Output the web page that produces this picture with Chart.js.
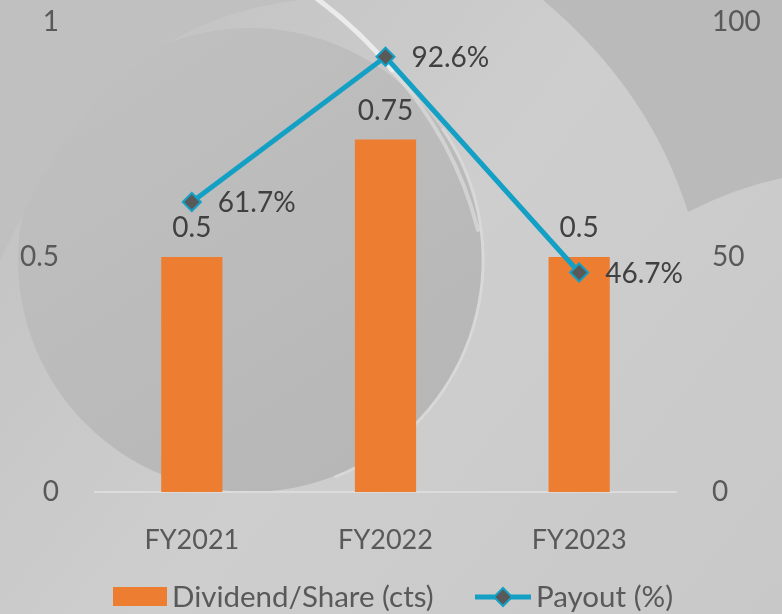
<!DOCTYPE html>
<html>
<head>
<meta charset="utf-8">
<script src="https://cdn.jsdelivr.net/npm/chart.js@4.4.1/dist/chart.umd.min.js"></script>
<style>
	html, body { margin: 0; padding: 0; background: #c8c8c8; }
	body { width: 782px; height: 614px; overflow: hidden; }
</style>
</head>
<body>
<canvas id="chart" width="782" height="614"></canvas>
<script>
var categories = ['FY2021', 'FY2022', 'FY2023'];
var dividendValues = [0.5, 0.75, 0.5];
var payoutValues = [61.7, 92.6, 46.7];
var leftTicks = [0, 0.5, 1];
var rightTicks = [0, 50, 100];

var textColor = '#595959';
var labelColor = '#404040';
var orange = '#ed7d31';
var teal = '#14a0c4';
var font = 'Lato, "Open Sans", sans-serif';

// grey swirl backdrop behind the chart
var backdropPlugin = {
	id: 'backdrop',
	beforeDraw: function(chart) {
		var ctx = chart.ctx;
		ctx.save();
		var g = ctx.createLinearGradient(0, 0, 782, 614);
		g.addColorStop(0, '#c0c0c0');
		g.addColorStop(0.5, '#cecece');
		g.addColorStop(1, '#c8c8c8');
		ctx.fillStyle = g;
		ctx.fillRect(0, 0, 782, 614);

		// darker top-right shape
		ctx.beginPath();
		ctx.moveTo(543, 0);
		ctx.quadraticCurveTo(650, 90, 688, 212);
		ctx.quadraticCurveTo(735, 188, 782, 178);
		ctx.lineTo(782, 0);
		ctx.closePath();
		ctx.fillStyle = '#bababa';
		ctx.fill();

		// big circle on the left, fading into the top-left corner
		var cg = ctx.createLinearGradient(60, 60, 330, 470);
		cg.addColorStop(0, '#c0c0c0');
		cg.addColorStop(1, '#b7b7b7');
		ctx.beginPath();
		ctx.arc(250, 260, 232, 0, Math.PI * 2);
		ctx.fillStyle = cg;
		ctx.fill();
		ctx.fillStyle = '#c0c0c0';
		ctx.beginPath();
		ctx.moveTo(0, 0);
		ctx.lineTo(300, 0);
		ctx.quadraticCurveTo(120, 20, 30, 200);
		ctx.lineTo(0, 260);
		ctx.closePath();
		ctx.fill();

		// soft edge on the circle's right side
		ctx.strokeStyle = 'rgba(225,225,225,0.55)';
		ctx.lineWidth = 3;
		ctx.beginPath();
		ctx.arc(250, 260, 233, -0.6, 1.2);
		ctx.stroke();

		// bright streak at the top
		ctx.lineCap = 'round';
		ctx.strokeStyle = 'rgba(250,250,250,0.7)';
		ctx.lineWidth = 5;
		ctx.beginPath();
		ctx.moveTo(312, -5);
		ctx.quadraticCurveTo(360, 30, 392, 70);
		ctx.stroke();
		ctx.strokeStyle = 'rgba(240,240,240,0.45)';
		ctx.lineWidth = 4;
		ctx.beginPath();
		ctx.moveTo(392, 70);
		ctx.quadraticCurveTo(455, 140, 478, 230);
		ctx.stroke();
		ctx.restore();
	}
};

// value labels above bars and right of points
var labelsPlugin = {
	id: 'valueLabels',
	afterDatasetsDraw: function(chart) {
		var ctx = chart.ctx;
		ctx.save();
		ctx.font = '28px ' + font;
		ctx.fillStyle = labelColor;
		chart.data.datasets.forEach(function(ds, i) {
			var meta = chart.getDatasetMeta(i);
			meta.data.forEach(function(el, j) {
				var v = ds.data[j];
				ctx.textBaseline = 'middle';
				if (ds.type === 'bar') {
					ctx.textAlign = 'center';
					ctx.fillText(String(v), el.x, el.y - 29);
				} else {
					ctx.textAlign = 'left';
					ctx.fillText(v.toFixed(1) + '%', el.x + 26, el.y + 1);
				}
			});
		});
		ctx.restore();
	}
};

// legend drawn at the bottom
var legendPlugin = {
	id: 'bottomLegend',
	afterDraw: function(chart) {
		var ctx = chart.ctx;
		var y = 597;
		ctx.save();
		ctx.fillStyle = orange;
		ctx.fillRect(113, 587, 54, 19);
		ctx.font = '29.5px ' + font;
		ctx.fillStyle = textColor;
		ctx.textAlign = 'left';
		ctx.textBaseline = 'middle';
		ctx.fillText(chart.data.datasets[0].label, 172, y);

		ctx.strokeStyle = teal;
		ctx.lineWidth = 5;
		ctx.beginPath();
		ctx.moveTo(475, y);
		ctx.lineTo(531, y);
		ctx.stroke();
		ctx.beginPath();
		ctx.moveTo(503, y - 9);
		ctx.lineTo(512, y);
		ctx.lineTo(503, y + 9);
		ctx.lineTo(494, y);
		ctx.closePath();
		ctx.fillStyle = '#595959';
		ctx.fill();
		ctx.lineWidth = 2;
		ctx.stroke();
		ctx.fillStyle = textColor;
		ctx.fillText(chart.data.datasets[1].label, 536, y);
		ctx.restore();
	}
};

function noPad(s) {
	s.paddingTop = 0;
	s.paddingBottom = 0;
}

var ctx = document.getElementById('chart').getContext('2d');
var chart = new Chart(ctx, {
	data: {
		labels: categories,
		datasets: [{
			type: 'bar',
			label: 'Dividend/Share (cts)',
			data: dividendValues,
			backgroundColor: orange,
			yAxisID: 'y',
			categoryPercentage: 1,
			barPercentage: 0.316,
			order: 1
		}, {
			type: 'line',
			label: 'Payout (%)',
			data: payoutValues,
			borderColor: teal,
			borderWidth: 5,
			pointStyle: 'rectRot',
			pointRadius: 9,
			pointBackgroundColor: '#595959',
			pointBorderColor: teal,
			pointBorderWidth: 2,
			yAxisID: 'y1',
			order: 0
		}]
	},
	options: {
		responsive: false,
		animation: false,
		layout: { padding: { top: 22, left: 0, right: 0, bottom: 0 } },
		plugins: {
			legend: { display: false },
			tooltip: { enabled: false }
		},
		scales: {
			x: {
				grid: { display: false },
				border: { display: true, color: '#dcdcdc', width: 2 },
				ticks: { color: textColor, font: { family: font, size: 27 }, padding: 24 },
				afterFit: function(s) { s.height = 122; }
			},
			y: {
				position: 'left',
				min: 0, max: 1,
				grid: { display: false },
				border: { display: false },
				afterBuildTicks: function(s) { s.ticks = leftTicks.map(function(v) { return { value: v }; }); },
				ticks: {
					color: textColor, font: { family: font, size: 28 }, padding: 28,
					callback: function(v) { return String(v); }
				},
				afterFit: function(s) { s.width = 95; noPad(s); }
			},
			y1: {
				position: 'right',
				min: 0, max: 100,
				grid: { display: false },
				border: { display: false },
				afterBuildTicks: function(s) { s.ticks = rightTicks.map(function(v) { return { value: v }; }); },
				ticks: {
					color: textColor, font: { family: font, size: 28 }, padding: 28,
					callback: function(v) { return String(v); }
				},
				afterFit: function(s) { s.width = 106; noPad(s); }
			}
		}
	},
	plugins: [backdropPlugin, labelsPlugin, legendPlugin]
});
</script>
</body>
</html>
